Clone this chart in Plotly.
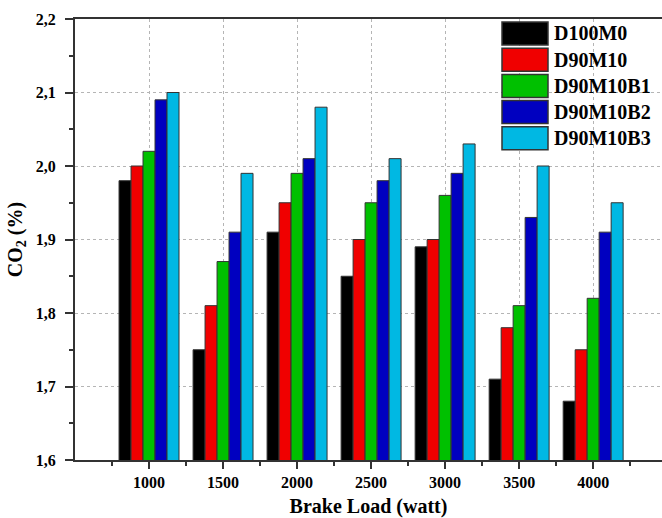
import plotly.graph_objects as go

loads = ["1000", "1500", "2000", "2500", "3000", "3500", "4000"]
series_names = ["D100M0", "D90M10", "D90M10B1", "D90M10B2", "D90M10B3"]
d100m0 = [1.98, 1.75, 1.91, 1.85, 1.89, 1.71, 1.68]
d90m10 = [2.00, 1.81, 1.95, 1.90, 1.90, 1.78, 1.75]
d90m10b1 = [2.02, 1.87, 1.99, 1.95, 1.96, 1.81, 1.82]
d90m10b2 = [2.09, 1.91, 2.01, 1.98, 1.99, 1.93, 1.91]
d90m10b3 = [2.10, 1.99, 2.08, 2.01, 2.03, 2.00, 1.95]
colors = ["#000000", "#f00000", "#00c000", "#0000c0", "#00b8e3"]

series = [d100m0, d90m10, d90m10b1, d90m10b2, d90m10b3]
xpos = list(range(len(loads)))

W, H = 662, 518
L, R, T, B = 75, 0, 19, 58
FONT = "Liberation Serif"

fig = go.Figure()
for name, vals, c in zip(series_names, series, colors):
    fig.add_trace(go.Bar(x=xpos, y=vals, name=name, marker=dict(color=c, line=dict(color="#333333", width=1)),
                         showlegend=False))

# custom legend with large swatches (paper coords from pixel layout)
pw, ph = W - L - R, H - T - B
def px2x(px):
    return (px - L) / pw
def px2y(py):
    return (H - B - py) / ph

shapes = []
annotations = []
for i, (name, c) in enumerate(zip(series_names, colors)):
    top = 22 + i * 26.2
    bot = top + 23
    shapes.append(dict(type="rect", xref="paper", yref="paper",
                       x0=px2x(502), x1=px2x(548), y0=px2y(bot), y1=px2y(top),
                       fillcolor=c, line=dict(color="#333333", width=1.5), layer="above"))
    annotations.append(dict(xref="paper", yref="paper", x=px2x(552), y=px2y((top + bot) / 2),
                            text=name, showarrow=False, xanchor="left", yanchor="middle",
                            font=dict(family=FONT, size=20, color="black", weight="bold")))

fig.update_layout(
    width=W, height=H,
    margin=dict(l=L, r=R, t=T, b=B),
    plot_bgcolor="white", paper_bgcolor="white",
    barmode="group", bargap=0.19, bargroupgap=0,
    separators=",.",
    shapes=shapes, annotations=annotations,
    font=dict(family=FONT, color="black"),
)
fig.update_xaxes(
    range=[-1, 6.93], tickmode="array", tickvals=xpos, ticktext=loads,
    ticks="outside", ticklen=7, tickwidth=1.5, tickcolor="#333333",
    ticklabelstandoff=0,
    minor=dict(tickvals=[i + 0.5 for i in range(-1, len(loads))], ticks="outside", ticklen=4,
               tickwidth=1.5, tickcolor="#333333", showgrid=False),
    showline=True, linecolor="#333333", linewidth=2, mirror=True,
    showgrid=True, gridcolor="#b5b5b5", griddash="dot", gridwidth=1,
    tickfont=dict(family=FONT, size=16, color="black", weight="bold"),
    title=dict(text="Brake Load (watt)", font=dict(family=FONT, size=20, color="black", weight="bold"), standoff=11),
    automargin=False, zeroline=False,
)
fig.update_yaxes(
    range=[1.6, 2.2], dtick=0.1, tick0=1.6, tickformat=".1f",
    ticks="outside", ticklen=8, tickwidth=1.5, tickcolor="#333333",
    ticklabelstandoff=6,
    minor=dict(dtick=0.05, ticks="outside", ticklen=4, tickwidth=1.5, tickcolor="#333333", showgrid=False),
    showline=True, linecolor="#333333", linewidth=2,
    showgrid=True, gridcolor="#b5b5b5", griddash="dot", gridwidth=1,
    tickfont=dict(family=FONT, size=16, color="black", weight="bold"),
    title=dict(text="CO<sub>2</sub> (%)", font=dict(family=FONT, size=20, color="black", weight="bold"), standoff=8),
    automargin=False, zeroline=False,
)

fig.write_html("out.html", config={"displayModeBar": False},
               post_script="document.body.style.margin='0px';")
